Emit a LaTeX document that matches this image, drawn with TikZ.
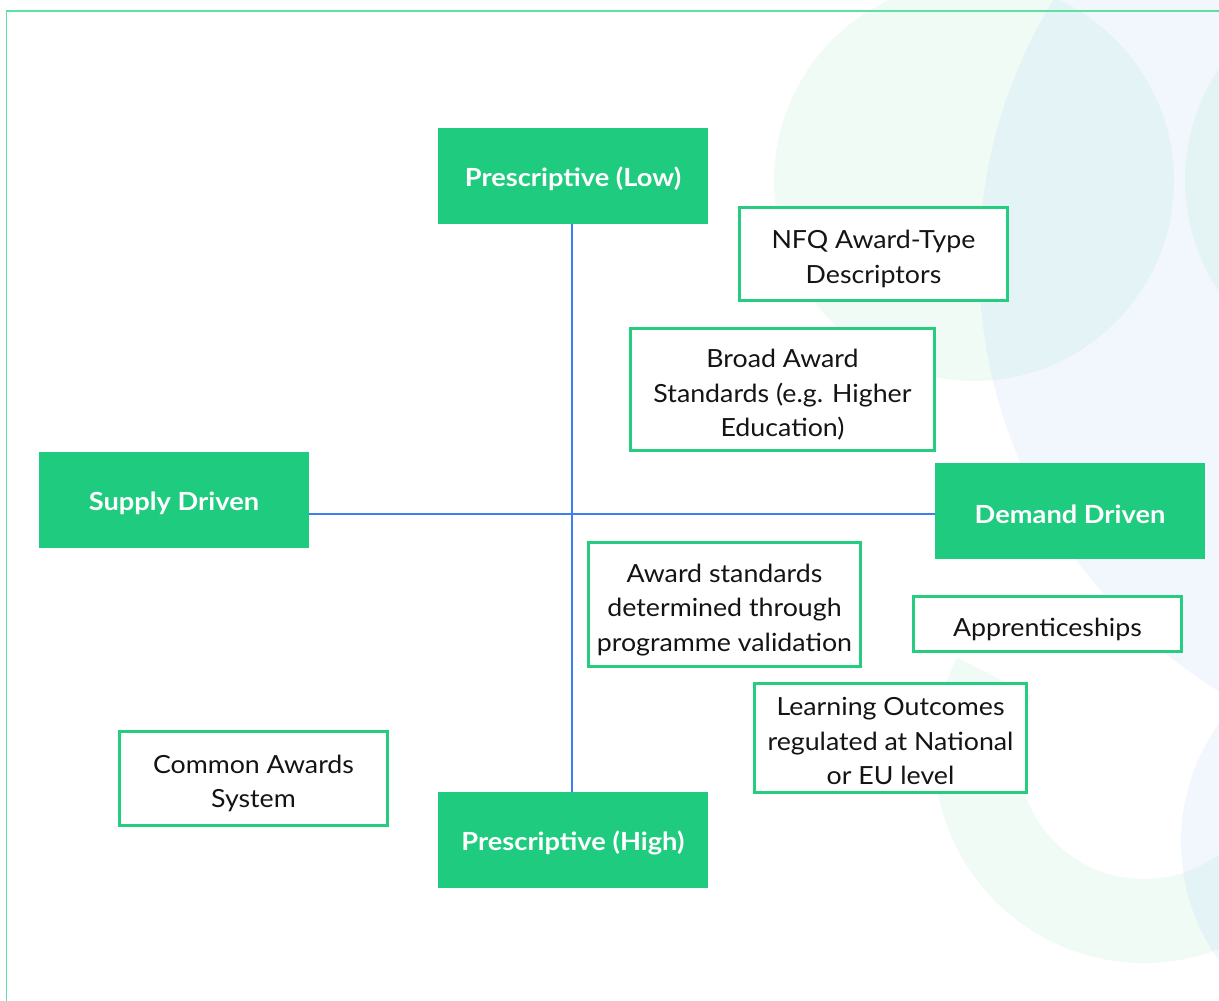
\documentclass[tikz,border=0pt]{standalone}
\usepackage{fontspec}
\setmainfont{Lato}[FakeStretch=1.07, BoldFeatures={FakeStretch=1.09}]
\usetikzlibrary{calc}
\definecolor{hubgreen}{RGB}{31,203,126}
\definecolor{boxgreen}{RGB}{38,204,128}
\definecolor{framegreen}{RGB}{95,224,163}
\definecolor{axisblue}{RGB}{61,126,242}
\definecolor{tintgreen}{RGB}{40,190,110}
\definecolor{tintblue}{RGB}{60,130,240}
\definecolor{inktext}{RGB}{20,20,20}
% invisible struts that lower the first line of a label a little
\newcommand{\lowerstrut}{\rule{0pt}{21.5pt}}
\newcommand{\hubstrut}{\rule{0pt}{19.5pt}}
\begin{document}
\begin{tikzpicture}[x=0.75pt,y=-0.75pt,
  hub/.style={rectangle, fill=hubgreen, text=white, inner sep=0pt,
    minimum width=202.5pt, minimum height=72pt,
    font=\fontsize{18.75pt}{25.9pt}\selectfont\bfseries},
  item/.style={rectangle, draw=boxgreen, line width=2pt, fill=white,
    text=inktext, inner sep=0pt, align=center,
    font=\fontsize{18.75pt}{25.9pt}\selectfont},
  axis/.style={draw=axisblue, line width=1.5pt},
  greentint/.style={fill=tintgreen, fill opacity=0.065},
  bluetint/.style={fill=tintblue, fill opacity=0.065}]
\useasboundingbox (0,0) rectangle (1219,1000);

% soft decorative discs and ring in the background
\begin{scope}
  \clip (0,0) rectangle (1219,1000);
  \fill[greentint] (974,181) circle[radius=200];
  \fill[greentint] (1144,753) ++(207:210) arc[start angle=207, end angle=-40, radius=210]
     -- ($(1144,753)+(-40:126)$) arc[start angle=-40, end angle=207, radius=126] -- cycle;
  \fill[bluetint] (1481,263) circle[radius=502];
  \fill[greentint] (1385,180) circle[radius=200];
  \fill[bluetint] (1385,842) circle[radius=204];
  % outer frame
  \draw[framegreen, line width=1.1pt] (6.5,11) rectangle (1260,1040);
\end{scope}

% centre of the two axes
\coordinate (ctr) at (572,513.5);

% axis end labels
\node[hub] (plow)   at (573,176)  {\hubstrut Prescriptive (Low)};
\node[hub] (supply) at (174,500)  {\hubstrut Supply Driven};
\node[hub] (demand) at (1070,511) {\hubstrut Demand Driven};
\node[hub] (phigh)  at (573,840)  {\hubstrut Prescriptive (High)};

% axes
\draw[axis] (plow.south -| ctr) -- (phigh.north -| ctr);
\draw[axis] (supply.east |- ctr) -- (demand.west |- ctr);

% placed examples
\node[item, minimum width=201.2pt, minimum height=70pt] (nfq) at (873.5,254)
  {\lowerstrut NFQ Award-Type\\Descriptors};
\node[item, minimum width=228.2pt, minimum height=91.7pt] (broad) at (782.5,389.5)
  {\lowerstrut Broad Award\\Standards (e.g. Higher\\Education)};
\node[item, minimum width=204.2pt, minimum height=93.2pt] (valid) at (724.5,604.5)
  {\lowerstrut Award standards\\determined through\\programme validation};
\node[item, minimum width=201.2pt, minimum height=41.5pt] (appr) at (1047.5,624)
  {\lowerstrut Apprenticeships};
\node[item, minimum width=204.2pt, minimum height=82pt] (lo) at (890.5,738)
  {\rule{0pt}{18.5pt}Learning Outcomes\\regulated at National\\or EU level};
\node[item, minimum width=201.2pt, minimum height=70.7pt] (cas) at (253.5,778.5)
  {\lowerstrut Common Awards\\System};
\end{tikzpicture}
\end{document}
